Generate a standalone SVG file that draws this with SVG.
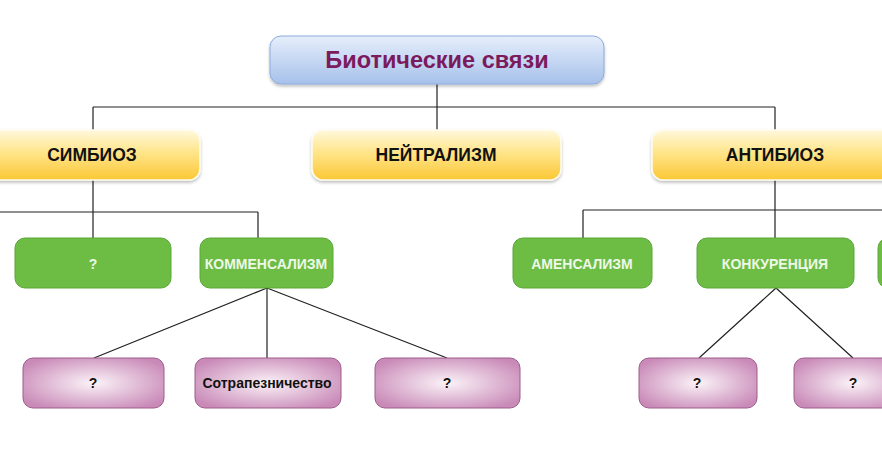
<svg xmlns="http://www.w3.org/2000/svg" width="882" height="463" viewBox="0 0 882 463">
<defs>
<linearGradient id="gBlue" x1="0" y1="0" x2="0" y2="1">
<stop offset="0" stop-color="#e6eefb"/>
<stop offset="1" stop-color="#a6c1eb"/>
</linearGradient>
<linearGradient id="gYellow" x1="0" y1="0" x2="0" y2="1">
<stop offset="0" stop-color="#fff8dc"/>
<stop offset="0.45" stop-color="#ffe58a"/>
<stop offset="1" stop-color="#fbc735"/>
</linearGradient>
<radialGradient id="gPink" cx="0.5" cy="0.5" r="0.6">
<stop offset="0" stop-color="#fbf3f8"/>
<stop offset="1" stop-color="#c98ab8"/>
</radialGradient>
<filter id="sh" x="-10%" y="-20%" width="120%" height="150%">
<feDropShadow dx="0" dy="2" stdDeviation="1.5" flood-color="#000" flood-opacity="0.25"/>
</filter>
</defs>
<style>
text{font-family:"Liberation Sans",Arial,sans-serif;font-weight:bold;text-anchor:middle;dominant-baseline:central}
.blue{fill:url(#gBlue);stroke:#8cabdc;stroke-width:1}
.yel{fill:url(#gYellow);stroke:#fffdf0;stroke-width:1.5}
.grn{fill:#6dbd45;stroke:#5aa737;stroke-width:1}
.pnk{fill:url(#gPink);stroke:#9e5d8c;stroke-width:1}
.tTitle{font-size:23.5px;fill:#7b1a5c}
.tYel{font-size:17.5px;fill:#111}
.tGrn{font-size:14px;fill:#eef8e8}
.tPnk{font-size:14px;fill:#111}
.ln{stroke:#222;stroke-width:1.2;fill:none}
</style>
<rect width="882" height="463" fill="#fff"/>
<g id="connectors">
<path class="ln" d="M437 84V130M93 107H775M93 107V130M775 107V130"/>
<path class="ln" d="M93 180V238M0 212H258M258 212V238"/>
<path class="ln" d="M775 180V238M583 210H882M583 210V238"/>
<path class="ln" d="M267 288L94 358M267 288V358M267 288L447 358"/>
<path class="ln" d="M776 288L699 358M776 288L853 358"/>
</g>
<g id="root"><rect class="blue" x="270" y="36" width="334" height="48" rx="11" filter="url(#sh)"/><text class="tTitle" x="437" y="60">Биотические связи</text></g>
<g id="simbioz"><rect class="yel" x="-16" y="130" width="216" height="50" rx="11" filter="url(#sh)"/><text class="tYel" x="92" y="155">СИМБИОЗ</text></g>
<g id="neitralizm"><rect class="yel" x="312" y="130" width="249" height="50" rx="11" filter="url(#sh)"/><text class="tYel" x="436" y="155">НЕЙТРАЛИЗМ</text></g>
<g id="antibioz"><rect class="yel" x="652" y="130" width="246" height="50" rx="11" filter="url(#sh)"/><text class="tYel" x="775" y="155">АНТИБИОЗ</text></g>
<g id="g-q1"><rect class="grn" x="15" y="238" width="156" height="50" rx="10"/><text class="tGrn" x="93" y="264">?</text></g>
<g id="kommensalizm"><rect class="grn" x="200" y="238" width="133" height="50" rx="10"/><text class="tGrn" x="266" y="264">КОММЕНСАЛИЗМ</text></g>
<g id="amensalizm"><rect class="grn" x="513" y="238" width="139" height="50" rx="10"/><text class="tGrn" x="582" y="264">АМЕНСАЛИЗМ</text></g>
<g id="konkurencia"><rect class="grn" x="697" y="238" width="157" height="50" rx="10"/><text class="tGrn" x="775" y="264">КОНКУРЕНЦИЯ</text></g>
<g id="g-right"><rect class="grn" x="878" y="238" width="60" height="50" rx="10"/></g>
<g id="p-q1"><rect class="pnk" x="23" y="358" width="141" height="50" rx="10"/><text class="tPnk" x="93" y="383">?</text></g>
<g id="sotrapeznichestvo"><rect class="pnk" x="195" y="358" width="146" height="50" rx="10"/><text class="tPnk" x="267" y="383">Сотрапезничество</text></g>
<g id="p-q2"><rect class="pnk" x="375" y="358" width="145" height="50" rx="10"/><text class="tPnk" x="447" y="383">?</text></g>
<g id="p-q3"><rect class="pnk" x="639" y="358" width="118" height="50" rx="10"/><text class="tPnk" x="697" y="383">?</text></g>
<g id="p-q4"><rect class="pnk" x="794" y="358" width="118" height="50" rx="10"/><text class="tPnk" x="853" y="383">?</text></g>
</svg>
